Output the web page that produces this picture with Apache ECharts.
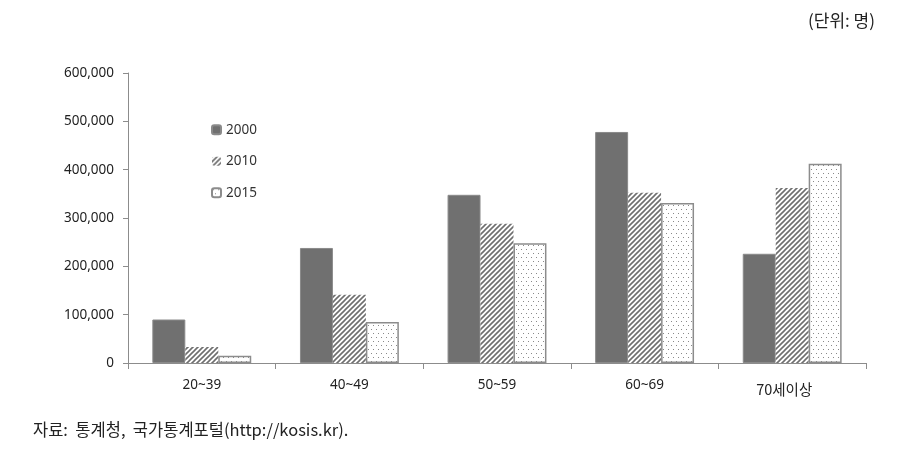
<!DOCTYPE html>
<html><head><meta charset="utf-8">
<script src="https://cdn.jsdelivr.net/npm/echarts@6/dist/echarts.min.js"></script>
<style>html,body{margin:0;padding:0;background:#fff}#c{width:909px;height:462px}</style>
</head><body><div id="c"></div>
<script>
const categories = ['20~39', '40~49', '50~59', '60~69', '70세이상'];
const seriesNames = ['2000', '2010', '2015'];
const v2000 = [90000, 238000, 348000, 478000, 226000];
const v2010 = [33000, 141000, 288000, 352000, 362000];
const v2015 = [15000, 85000, 248000, 331000, 412000];
const yTicks = [0, 100000, 200000, 300000, 400000, 500000, 600000];

function hatch() {
  const c = document.createElement('canvas'); c.width = 5; c.height = 5;
  const g = c.getContext('2d');
  g.fillStyle = '#fff'; g.fillRect(0, 0, 5, 5);
  g.strokeStyle = '#6f6f6f'; g.lineWidth = 1.6;
  g.beginPath();
  g.moveTo(-1, 6); g.lineTo(6, -1);
  g.moveTo(-1, 1); g.lineTo(1, -1);
  g.moveTo(4, 6); g.lineTo(6, 4);
  g.stroke();
  return c;
}
function dots() {
  const c = document.createElement('canvas'); c.width = 5; c.height = 8;
  const g = c.getContext('2d');
  g.fillStyle = '#fff'; g.fillRect(0, 0, 5, 8);
  g.fillStyle = '#8a8a8a';
  g.fillRect(1, 1, 1, 1);
  g.fillRect(3, 5, 1, 1);
  return c;
}

const chart = echarts.init(document.getElementById('c'));
const ff = '"Noto Sans", "Noto Sans CJK KR", sans-serif';
const kf = '"Noto Sans CJK KR", sans-serif';
const catData = categories.map((c, i) => i === categories.length - 1
  ? { value: c, textStyle: { padding: [4, 16, 0, 0], fontSize: 14.5, fontFamily: kf } } : c);
chart.setOption({
  animation: false,
  textStyle: { fontFamily: ff },
  grid: { left: 128, right: 43, top: 73, bottom: 99 },
  title: [
    { text: '(단위: 명)', right: 29, top: 7, textStyle: { fontSize: 17, fontWeight: 'normal', color: '#222', fontFamily: kf } },
    { text: '자료:  통계청,  국가통계포털(http://kosis.kr).', left: 28, top: 416, textStyle: { fontSize: 16.5, fontWeight: 'normal', color: '#222', fontFamily: kf } }
  ],
  legend: {
    orient: 'vertical', left: 206, top: 118, itemGap: 18, itemWidth: 9, itemHeight: 9,
    textStyle: { fontSize: 13.5, color: '#333', fontFamily: ff },
    data: seriesNames
  },
  xAxis: {
    type: 'category', data: catData,
    axisLine: { lineStyle: { color: '#8c8c8c' } },
    axisTick: { show: true, length: 6, lineStyle: { color: '#8c8c8c' } },
    axisLabel: { fontSize: 13.5, color: '#222', margin: 15 }
  },
  yAxis: {
    type: 'value', min: 0, max: 600000, interval: 100000,
    splitLine: { show: false },
    axisLine: { show: true, lineStyle: { color: '#8c8c8c' } },
    axisTick: { show: true, length: 5, lineStyle: { color: '#8c8c8c' } },
    axisLabel: { fontSize: 13.5, color: '#222', margin: 14,
      formatter: v => yTicks.includes(v) ? v.toLocaleString('en-US') : '' }
  },
  series: [
    { name: seriesNames[0], type: 'bar', data: v2000, barGap: '0%', barCategoryGap: '33%',
      itemStyle: { color: '#707070', borderColor: '#8a8a8a', borderWidth: 1 } },
    { name: seriesNames[1], type: 'bar', data: v2010,
      itemStyle: { color: { image: hatch(), repeat: 'repeat' }, borderColor: '#ffffff', borderWidth: 0 } },
    { name: seriesNames[2], type: 'bar', data: v2015,
      itemStyle: { color: { image: dots(), repeat: 'repeat' }, borderColor: '#8c8c8c', borderWidth: 1.5 } }
  ]
});
</script></body></html>
